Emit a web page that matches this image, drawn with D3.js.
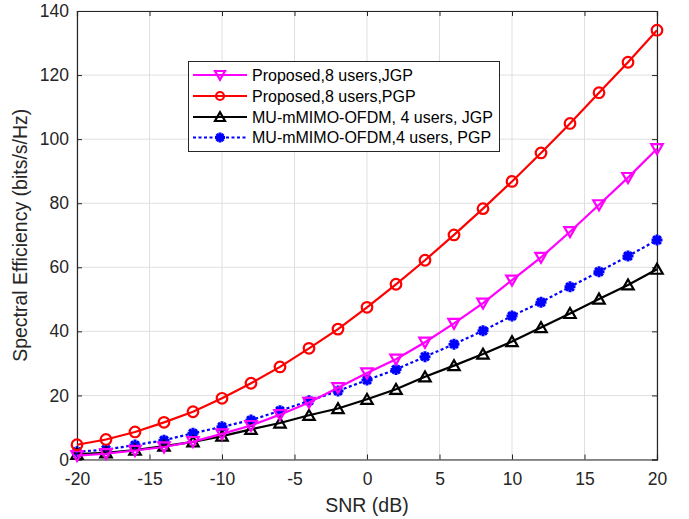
<!DOCTYPE html>
<html><head><meta charset="utf-8">
<script src="https://cdn.jsdelivr.net/npm/d3@7"></script>
<style>body{margin:0;background:#fff}svg{display:block}text{font-family:"Liberation Sans",Arial,Helvetica,sans-serif}</style>
</head><body>
<svg id="c" width="689" height="519"></svg>
<script>
const snr = [-20,-18,-16,-14,-12,-10,-8,-6,-4,-2,0,2,4,6,8,10,12,14,16,18,20];
const propJGP = [1.2,1.8,2.8,3.9,5.6,8.0,10.6,14.0,17.8,22.4,27.0,31.3,36.6,42.5,48.8,56.0,63.1,71.1,79.5,88.0,97.0];
const propPGP = [4.6,6.25,8.6,11.6,14.9,19.1,23.8,28.9,34.7,40.7,47.5,54.7,62.2,70.1,78.3,86.8,95.7,104.9,114.5,124.0,134.0];
const muJGP = [1.65,2.1,2.9,4.2,5.5,7.3,9.4,11.4,13.8,15.9,18.8,21.9,25.8,29.3,32.9,36.8,41.2,45.6,50.1,54.5,59.4];
const muPGP = [2.4,3.1,4.5,6.0,8.2,10.2,12.3,15.2,18.3,21.4,24.8,28.1,32.1,36.0,40.2,44.8,49.1,53.9,58.6,63.5,68.5];
const xTicks = [-20,-15,-10,-5,0,5,10,15,20];
const yTicks = [0,20,40,60,80,100,120,140];
const names = ["Proposed,8 users,JGP","Proposed,8 users,PGP","MU-mMIMO-OFDM, 4 users, JGP","MU-mMIMO-OFDM,4 users, PGP"];

const svg = d3.select("#c");
const L=77, R=657, T=11, B=459.5;
const x = d3.scaleLinear().domain([-20,20]).range([L,R]);
const y = d3.scaleLinear().domain([0,140]).range([B,T]);
const axCol = "#262626";
const fmt = d => String(d);

// grid
const g = svg.append("g");
g.selectAll(".gx").data(xTicks).join("line").attr("x1",d=>x(d)).attr("x2",d=>x(d)).attr("y1",T).attr("y2",B).attr("stroke","#dfdfdf").attr("stroke-width",1);
g.selectAll(".gy").data(yTicks).join("line").attr("y1",d=>y(d)).attr("y2",d=>y(d)).attr("x1",L).attr("x2",R).attr("stroke","#dfdfdf").attr("stroke-width",1);

// axes
const ax = svg.append("g").attr("transform",`translate(0,${B})`).call(d3.axisBottom(x).tickValues(xTicks).tickFormat(fmt).tickSize(-5).tickPadding(13));
const ay = svg.append("g").attr("transform",`translate(${L},0)`).call(d3.axisLeft(y).tickValues(yTicks).tickFormat(fmt).tickSize(-5).tickPadding(8));
const axT = svg.append("g").attr("transform",`translate(0,${T})`).call(d3.axisTop(x).tickValues(xTicks).tickSize(-5).tickFormat(""));
const ayR = svg.append("g").attr("transform",`translate(${R},0)`).call(d3.axisRight(y).tickValues(yTicks).tickSize(-5).tickFormat(""));
[ax,ay,axT,ayR].forEach(a=>{
  a.selectAll("path").attr("stroke",axCol).attr("stroke-width",1.2);
  a.selectAll("line").attr("stroke",axCol);
  a.selectAll("text").attr("fill",axCol).style("font-size","17.5px").style("font-family",'"Liberation Sans",Arial,sans-serif');
});
ax.selectAll("text").attr("dy","0.71em");

// labels
svg.append("text").attr("x",(L+R)/2).attr("y",512).attr("text-anchor","middle").attr("fill",axCol).style("font-size","19.5px").text("SNR (dB)");
svg.append("text").attr("transform",`translate(27,${(T+B)/2}) rotate(-90)`).attr("text-anchor","middle").attr("fill",axCol).style("font-size","19.5px").text("Spectral Efficiency (bits/s/Hz)");

// custom markers
const star = {draw(ctx,size){const r=Math.sqrt(size)/2;const a=r*0.7071;
  ctx.moveTo(-r,0);ctx.lineTo(r,0);ctx.moveTo(0,-r);ctx.lineTo(0,r);
  ctx.moveTo(-a,-a);ctx.lineTo(a,a);ctx.moveTo(-a,a);ctx.lineTo(a,-a);}};
const triDown = {draw(ctx,size){const r=Math.sqrt(size)/2;ctx.moveTo(-r,-r*0.8);ctx.lineTo(r,-r*0.8);ctx.lineTo(0,r*0.95);ctx.closePath();}};
const triUp = {draw(ctx,size){const r=Math.sqrt(size)/2;ctx.moveTo(-r,r*0.8);ctx.lineTo(r,r*0.8);ctx.lineTo(0,-r*0.95);ctx.closePath();}};

const series = [
  {vals:propJGP,color:"#ff00ff",dash:null,sym:triDown,size:130,sw:2.2},
  {vals:propPGP,color:"#ff0000",dash:null,sym:d3.symbolCircle,size:Math.PI*28,sw:2.2},
  {vals:muJGP,color:"#000000",dash:null,sym:triUp,size:130,sw:2.2},
  {vals:muPGP,color:"#0000ff",dash:"3,2.5",sym:star,size:121,sw:3}
];
const line = d3.line().x((d,i)=>x(snr[i])).y(d=>y(d));
const order=[3,2,0,1];
order.forEach(k=>{
  const s=series[k];
  const gg=svg.append("g");
  gg.append("path").attr("d",line(s.vals)).attr("fill","none").attr("stroke",s.color).attr("stroke-width",2.2).attr("stroke-dasharray",s.dash);
  gg.selectAll("path.m").data(s.vals).join("path").attr("class","m")
    .attr("transform",(d,i)=>`translate(${x(snr[i])},${y(d)})`)
    .attr("d",d3.symbol().type(s.sym).size(s.size))
    .attr("fill","none").attr("stroke",s.color).attr("stroke-width",s.sw);
  if(k===3){
    gg.selectAll("circle.m2").data(s.vals).join("circle").attr("class","m2")
      .attr("cx",(d,i)=>x(snr[i])).attr("cy",d=>y(d)).attr("r",3).attr("fill",s.color);
  }
});

// legend
const lg = svg.append("g");
lg.append("rect").attr("x",188.5).attr("y",61.5).attr("width",311).attr("height",90).attr("fill","#fff").attr("stroke",axCol).attr("stroke-width",1);
const rowsY=[75,96,117,137.5];
series.forEach((s,i)=>{
  const yy=rowsY[i];
  lg.append("line").attr("x1",193).attr("x2",247).attr("y1",yy).attr("y2",yy).attr("stroke",s.color).attr("stroke-width",2.2).attr("stroke-dasharray",s.dash);
  lg.append("path").attr("transform",`translate(220,${yy})`).attr("d",d3.symbol().type(s.sym).size(i===1?Math.PI*16:100)).attr("fill","none").attr("stroke",s.color).attr("stroke-width",s.sw);
  if(i===3) lg.append("circle").attr("cx",220).attr("cy",yy).attr("r",2.5).attr("fill",s.color);
  lg.append("text").attr("x",252).attr("y",yy).attr("dy","0.35em").attr("fill","#000").style("font-size","16px").text(names[i]);
});
</script>
</body></html>
